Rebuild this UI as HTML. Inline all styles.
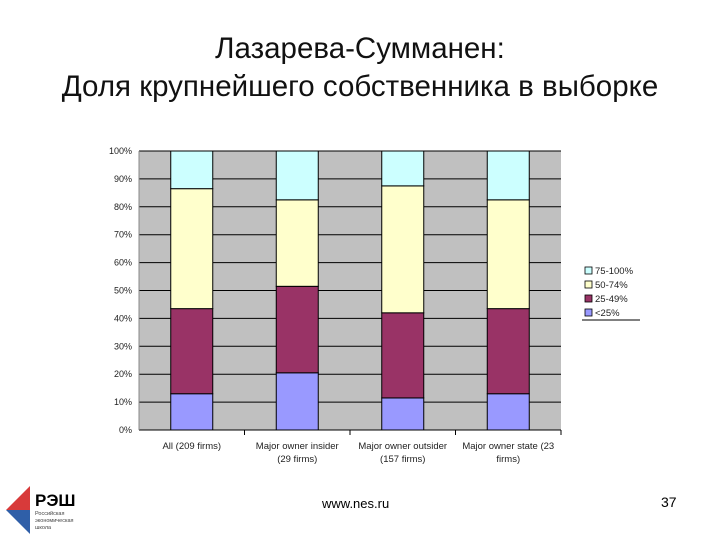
<!DOCTYPE html>
<html><head><meta charset="utf-8"><style>
body{margin:0;width:720px;height:540px;background:#fff;overflow:hidden;position:relative;font-family:"Liberation Sans",sans-serif}
.t{position:absolute;left:0;width:720px;text-align:center;font-family:"Liberation Sans","Noto Sans CJK SC",sans-serif;font-size:29.5px;color:#111;line-height:34px}
</style></head><body>
<div class="t" style="top:32px">Лазарева-Сумманен:</div>
<div class="t" style="top:70px">Доля крупнейшего собственника в выборке</div>
<svg id="c" width="720" height="540" style="position:absolute;left:0;top:0"></svg>
<div style="position:absolute;left:322px;top:496px;font-size:13px;color:#000">www.nes.ru</div>
<div style="position:absolute;left:661px;top:494px;font-size:14px;color:#000">37</div>
<svg width="90" height="50" style="position:absolute;left:4px;top:484px">
<polygon points="26,2 26,26 2,26" fill="#d83a3a"/><polygon points="2,26 26,26 26,50" fill="#2f5fa8"/>
<text x="31" y="22" font-size="17" font-weight="bold" font-family="Liberation Sans,Noto Sans CJK SC,sans-serif">РЭШ</text>
<text x="31" y="31" font-size="5.5" fill="#444" font-family="Liberation Sans,Noto Sans CJK SC,sans-serif">Российская</text>
<text x="31" y="38" font-size="5.5" fill="#444" font-family="Liberation Sans,Noto Sans CJK SC,sans-serif">экономическая</text>
<text x="31" y="45" font-size="5.5" fill="#444" font-family="Liberation Sans,Noto Sans CJK SC,sans-serif">школа</text>
</svg>
<script>
const categories=["All (209 firms)|","Major owner insider|(29 firms)","Major owner outsider|(157 firms)","Major owner state  (23|firms)"];
const sLt25=[13,20.5,11.5,13];
const s25_49=[30.5,31,30.5,30.5];
const s50_74=[43,31,45.5,39];
const s75_100=[13.5,17.5,12.5,17.5];
const yTicks=[0,10,20,30,40,50,60,70,80,90,100];
const seriesNames=["75-100%","50-74%","25-49%","<25%"];
const colors=["#ccffff","#ffffcc","#993366","#9999ff"];
const X0=139,X1=561,Y0=430,Y1=151;
const svg=document.getElementById('c');const NS="http://www.w3.org/2000/svg";
function y(v){return Y0-(Y1-Y0)*-v/100;}
function cx(i){return X0+(X1-X0)/categories.length*(i+0.5);}
function el(t,a,p){const e=document.createElementNS(NS,t);for(const k in a)e.setAttribute(k,a[k]);(p||svg).appendChild(e);return e;}
const bg=el('rect',{x:X0,y:Y1,width:X1-X0,height:Y0-Y1,fill:'#c0c0c0'});


yTicks.forEach(v=>{
 const l=el('line',{x1:X0,x2:X1,y1:y(v),y2:y(v),stroke:'#000','stroke-width':1});
 
 
 const t=el('text',{x:X0-7,y:y(v)+3,'font-size':9,'text-anchor':'end',fill:'#222'});t.textContent=v+'%';
 
 
});
el('line',{x1:X0,x2:X0,y1:Y1,y2:Y0,stroke:'#888'});
for(let i=1;i<=categories.length;i++){el('line',{x1:X0+(X1-X0)/4*i,x2:X0+(X1-X0)/4*i,y1:Y0,y2:Y0+5,stroke:'#000'});}
const series=[sLt25,s25_49,s50_74,s75_100];const sc=[colors[3],colors[2],colors[1],colors[0]];
const bw=42;
categories.forEach((c,i)=>{
 let acc=0;
 series.forEach((s,k)=>{
  const r=el('rect',{x:cx(i)-bw/2,y:y(acc+s[i]),width:bw,height:y(acc)-y(acc+s[i]),fill:sc[k],stroke:'#000','stroke-width':1});
  
  
  acc+=s[i];
 });
 c.split('|').forEach((ln,j)=>{const t=el('text',{x:cx(i),y:Y0+19+j*13,'font-size':9.5,'text-anchor':'middle',fill:'#222'});t.textContent=ln;
  
  });
});
const lg=el('g',{});


el('rect',{x:582,y:262,width:58,height:58,fill:'#fff'},lg);
el('line',{x1:582,x2:640,y1:320,y2:320,stroke:'#000'},lg);
seriesNames.forEach((n,k)=>{
 const yy=265+k*14;
 el('rect',{x:585,y:yy+2,width:7,height:7,fill:colors[k],stroke:'#000','stroke-width':0.8},lg);
 const t=el('text',{x:595,y:yy+9,'font-size':9.5,fill:'#222'},lg);t.textContent=n;
 
 
});
</script>
</body></html>
